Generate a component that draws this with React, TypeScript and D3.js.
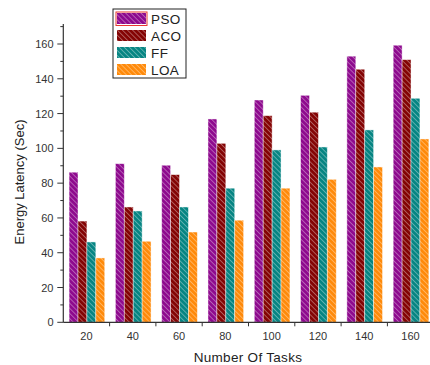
import React from 'react';
import * as d3 from 'd3';

const tasks = ['20', '40', '60', '80', '100', '120', '140', '160'];
const seriesNames = ['PSO', 'ACO', 'FF', 'LOA'];
const psoValues = [86.3, 91.2, 90.3, 116.9, 127.8, 130.5, 153.0, 159.3];
const acoValues = [58.2, 66.3, 84.9, 102.9, 118.8, 120.8, 145.5, 151.0];
const ffValues = [46.2, 64.0, 66.3, 77.1, 99.1, 100.8, 110.6, 128.8];
const loaValues = [37.0, 46.6, 51.9, 58.7, 77.1, 82.2, 89.3, 105.4];
const yTicks = [0, 20, 40, 60, 80, 100, 120, 140, 160];

const colors = ['#8e0a8e', '#840404', '#068583', '#ff8a0a'];
const allSeries = [psoValues, acoValues, ffValues, loaValues];

export default function App() {
  const width = 430;
  const height = 365;
  const left = 63.3;
  const bottom = 322.3;

  const x = d3.scaleBand<string>().domain(tasks).range([left, left + 8 * 46.3]).padding(0);
  const bw = x.bandwidth();
  const x1 = d3.scaleBand<string>().domain(seriesNames).range([bw * 0.125, bw * 0.895]).padding(0);
  const y = d3.scaleLinear().domain([0, 160]).range([bottom, 44]);
  const yTop = y(171.5);
  const minorTicks = d3.range(10, 171, 20);
  const font = 'Liberation Sans, Arial, sans-serif';
  const axisColor = '#333';

  return (
    <svg width={width} height={height} style={{ position: 'absolute', left: 0, top: 0, background: '#fff' }}>
      <defs>
        {colors.map((c, i) => (
          <pattern key={i} id={`hatch${i}`} patternUnits="userSpaceOnUse" width={3.6} height={3.6} patternTransform="rotate(-45)">
            <rect width={3.6} height={3.6} fill={c} />
            <line x1={0} y1={0} x2={0} y2={3.6} stroke="#fff" strokeWidth={1.1} strokeOpacity={0.6} />
          </pattern>
        ))}
      </defs>

      {/* bars */}
      {allSeries.map((vals, si) =>
        vals.map((v, ci) => (
          <rect
            key={`${si}-${ci}`}
            x={(x(tasks[ci]) ?? 0) + (x1(seriesNames[si]) ?? 0)}
            y={y(v)}
            width={x1.bandwidth()}
            height={bottom - y(v)}
            fill={`url(#hatch${si})`}
            stroke="#fff"
            strokeOpacity={0.55}
            strokeWidth={0.8}
          />
        ))
      )}

      {/* y axis */}
      <line x1={left} x2={left} y1={yTop} y2={bottom} stroke={axisColor} strokeWidth={1.2} />
      {yTicks.map((t) => (
        <g key={t}>
          <line x1={left - 6} x2={left} y1={y(t)} y2={y(t)} stroke={axisColor} strokeWidth={1} />
          <text x={53.5} y={y(t) + 4} textAnchor="end" fontFamily={font} fontSize={11} fill={axisColor}>
            {t}
          </text>
        </g>
      ))}
      {minorTicks.map((t) => (
        <line key={t} x1={left - 3} x2={left} y1={y(t)} y2={y(t)} stroke={axisColor} strokeWidth={1} />
      ))}

      {/* x axis */}
      <line x1={left} x2={width} y1={bottom} y2={bottom} stroke={axisColor} strokeWidth={1.2} />
      {tasks.map((t, i) => (
        <g key={t}>
          {i > 0 && (
            <line x1={x(t) ?? 0} x2={x(t) ?? 0} y1={bottom} y2={bottom + 4} stroke={axisColor} strokeWidth={1} />
          )}
          <text x={(x(t) ?? 0) + bw / 2} y={340} textAnchor="middle" fontFamily={font} fontSize={11} fill={axisColor}>
            {t}
          </text>
        </g>
      ))}

      {/* axis titles */}
      <text x={248} y={362} textAnchor="middle" fontFamily={font} fontSize={13.5} letterSpacing={0.3} fill="#222">
        Number Of Tasks
      </text>
      <text
        transform={`translate(24,182) rotate(-90)`}
        textAnchor="middle"
        fontFamily={font}
        fontSize={13}
        fill="#222"
      >
        Energy Latency (Sec)
      </text>

      {/* legend */}
      <rect x={113} y={9} width={73} height={69} fill="#fff" stroke="#222" strokeWidth={1} />
      {seriesNames.map((s, i) => (
        <g key={s}>
          <rect x={117} y={13 + i * 17} width={29} height={11} fill={`url(#hatch${i})`} />
          <text x={151} y={23.5 + i * 17} fontFamily={font} fontSize={13.5} letterSpacing={0.4} fill="#222">
            {s}
          </text>
        </g>
      ))}
      <rect x={116} y={12} width={31} height={13.5} fill="none" stroke="#e8382f" strokeWidth={1} />
    </svg>
  );
}
